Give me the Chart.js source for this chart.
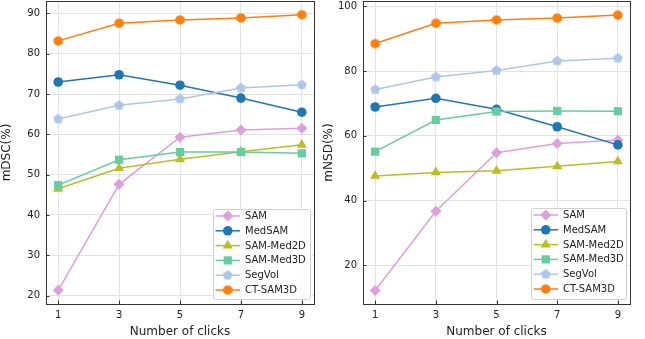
<!DOCTYPE html>
<html>
<head>
<meta charset="utf-8">
<script src="https://cdn.jsdelivr.net/npm/chart.js@4.4.1/dist/chart.umd.min.js"></script>
<style>
  html, body { margin: 0; padding: 0; background: #fff; }
  #wrap { position: relative; width: 645px; height: 339px; }
  .box { position: absolute; top: 0; height: 339px; }
</style>
</head>
<body>
<div id="wrap">
  <div class="box" style="left:0;width:322px"><canvas id="dscChart"></canvas></div>
  <div class="box" style="left:322px;width:323px"><canvas id="nsdChart"></canvas></div>
</div>
<script>
// data
const clicks = [1, 3, 5, 7, 9];
const methods = ['SAM', 'MedSAM', 'SAM-Med2D', 'SAM-Med3D', 'SegVol', 'CT-SAM3D'];

const dscSAM      = [21.3, 47.6, 59.3, 61.1, 61.5];
const dscMedSAM   = [73.0, 74.8, 72.2, 69.0, 65.5];
const dscMed2D    = [46.5, 51.6, 53.8, 55.7, 57.4];
const dscMed3D    = [47.4, 53.7, 55.6, 55.6, 55.3];
const dscSegVol   = [63.8, 67.2, 68.8, 71.5, 72.3];
const dscCTSAM3D  = [83.2, 87.6, 88.4, 88.9, 89.7];

const nsdSAM      = [12.2, 36.7, 54.8, 57.6, 58.7];
const nsdMedSAM   = [68.9, 71.6, 68.2, 62.8, 57.2];
const nsdMed2D    = [47.6, 48.7, 49.2, 50.6, 52.1];
const nsdMed3D    = [55.1, 64.9, 67.5, 67.7, 67.6];
const nsdSegVol   = [74.3, 78.2, 80.2, 83.1, 84.0];
const nsdCTSAM3D  = [88.5, 94.8, 95.8, 96.4, 97.3];

const dscTicks = [20, 30, 40, 50, 60, 70, 80, 90];
const nsdTicks = [20, 40, 60, 80, 100];

// build polygon markers (pentagon, octagon) as little canvases
function polyMarker(sides, r, color, rot) {
  const size = Math.ceil(r * 2 + 2);
  const c = document.createElement('canvas');
  c.width = size; c.height = size;
  const g = c.getContext('2d');
  g.fillStyle = color;
  g.beginPath();
  for (let i = 0; i < sides; i++) {
    const a = rot + i * 2 * Math.PI / sides;
    const px = size / 2 + r * Math.cos(a), py = size / 2 + r * Math.sin(a);
    if (i === 0) g.moveTo(px, py); else g.lineTo(px, py);
  }
  g.closePath();
  g.fill();
  return c;
}

const colors = ['#dda0dd', '#1f77b4', '#bcbd22', '#66cda0', '#aec7e8', '#ff7f0e'];
const pStyles = ['rectRot', 'circle', 'triangle', 'rect',
  polyMarker(5, 5.2, colors[4], -Math.PI / 2),
  polyMarker(8, 5, colors[5], Math.PI / 8)];
const pRadius = [5.5, 4.8, 5.8, 5.8, 5.2, 5];

function makeSets(series) {
  return series.map((vals, i) => ({
    label: methods[i],
    data: clicks.map((x, k) => ({ x: x, y: vals[k] })),
    borderColor: colors[i],
    backgroundColor: colors[i],
    borderWidth: 1.5,
    pointStyle: pStyles[i],
    pointRadius: pRadius[i],
    pointHoverRadius: pRadius[i],
    pointBorderWidth: 0,
    order: 6 - i
  }));
}

const FONT = 'DejaVu Sans';

// frame, inward ticks and legend drawn inside the plot area
const framePlugin = {
  id: 'frame',
  afterDatasetsDraw(chart, args, opts) {
    const ctx = chart.ctx, a = chart.chartArea;
    const xs = chart.scales.x, ys = chart.scales.y;
    ctx.save();
    ctx.strokeStyle = '#333';
    ctx.lineWidth = 1;
    xs.ticks.forEach(t => {
      const px = Math.round(xs.getPixelForValue(t.value)) + 0.5;
      ctx.beginPath(); ctx.moveTo(px, a.bottom); ctx.lineTo(px, a.bottom - 3.5); ctx.stroke();
    });
    ys.ticks.forEach(t => {
      const py = Math.round(ys.getPixelForValue(t.value)) + 0.5;
      ctx.beginPath(); ctx.moveTo(a.left, py); ctx.lineTo(a.left + 3.5, py); ctx.stroke();
    });
    ctx.strokeRect(Math.round(a.left) + 0.5, Math.round(a.top) + 0.5,
      Math.round(a.right - a.left), Math.round(a.bottom - a.top));

    // legend
    const L = opts.box;
    ctx.fillStyle = 'rgba(255,255,255,0.85)';
    ctx.strokeStyle = '#d0d0d0';
    ctx.beginPath();
    ctx.roundRect(L.x + 0.5, L.y + 0.5, L.w, L.h, 2);
    ctx.fill(); ctx.stroke();
    ctx.font = '10px "' + FONT + '"';
    ctx.textBaseline = 'middle';
    chart.data.datasets.forEach((ds, i) => {
      const y = L.y + 7 + i * 14.8;
      const x0 = L.x + 2.5, x1 = x0 + 24.5;
      ctx.strokeStyle = ds.borderColor;
      ctx.lineWidth = 1.5;
      ctx.beginPath(); ctx.moveTo(x0, y); ctx.lineTo(x1, y); ctx.stroke();
      ctx.fillStyle = ds.backgroundColor;
      Chart.helpers.drawPoint(ctx, {
        pointStyle: ds.pointStyle, radius: ds.pointRadius, rotation: 0, borderWidth: 0
      }, (x0 + x1) / 2, y);
      ctx.fillStyle = '#222';
      ctx.fillText(ds.label, x1 + 5, y + 0.5);
    });
    ctx.restore();
  }
};

function noPad(s) {
  s.paddingTop = 0; s.paddingBottom = 0; s.paddingLeft = 0; s.paddingRight = 0;
}

function makeChart(id, series, yMin, yMax, yTicks, yTitle, yWidth, rightPad, legendBox) {
  const ctx = document.getElementById(id).getContext('2d');
  return new Chart(ctx, {
    type: 'line',
    data: { datasets: makeSets(series) },
    options: {
      responsive: true,
      maintainAspectRatio: false,
      animation: false,
      layout: { autoPadding: false, padding: { top: 1, right: rightPad, left: 0, bottom: 0 } },
      plugins: {
        legend: { display: false },
        tooltip: { enabled: false },
        frame: { box: legendBox }
      },
      scales: {
        x: {
          type: 'linear', min: 0.6, max: 9.4,
          afterBuildTicks: s => { s.ticks = clicks.map(v => ({ value: v })); },
          afterFit: s => { s.height = 35; noPad(s); },
          grid: { color: '#e3e3e3', drawTicks: false },
          border: { display: false },
          ticks: { color: '#222', padding: 5, font: { family: FONT, size: 10 } },
          title: { display: true, text: 'Number of clicks', color: '#222', padding: { top: 1, bottom: 0 },
                   font: { family: FONT, size: 12 } }
        },
        y: {
          min: yMin, max: yMax,
          afterBuildTicks: s => { s.ticks = yTicks.map(v => ({ value: v })); },
          afterFit: s => { s.width = yWidth; noPad(s); },
          grid: { color: '#e3e3e3', drawTicks: false },
          border: { display: false },
          ticks: { color: '#222', padding: 6, font: { family: FONT, size: 10 } },
          title: { display: true, text: yTitle, color: '#222', padding: { top: 0, bottom: 2 },
                   font: { family: FONT, size: 12 } }
        }
      }
    },
    plugins: [framePlugin]
  });
}

makeChart('dscChart',
  [dscSAM, dscMedSAM, dscMed2D, dscMed3D, dscSegVol, dscCTSAM3D],
  17.9, 93.1, dscTicks, 'mDSC(%)', 46, 8,
  { x: 213, y: 209, w: 97, h: 90 });

makeChart('nsdChart',
  [nsdSAM, nsdMedSAM, nsdMed2D, nsdMed3D, nsdSegVol, nsdCTSAM3D],
  8.05, 101.65, nsdTicks, 'mNSD(%)', 41, 15,
  { x: 209, y: 208, w: 95, h: 91 });
</script>
</body>
</html>
